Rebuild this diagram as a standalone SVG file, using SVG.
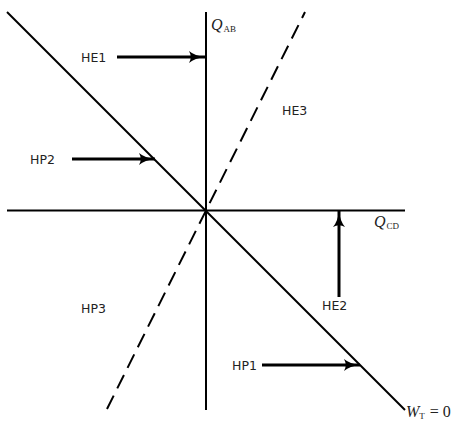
<svg xmlns="http://www.w3.org/2000/svg" width="458" height="423" viewBox="0 0 458 423">
<defs>
<marker id="ah" viewBox="0 0 16 12" refX="16" refY="6" markerWidth="16" markerHeight="12" markerUnits="userSpaceOnUse" orient="auto">
<path d="M0,0 Q6,5 16,6 Q6,7 0,12 Q3.5,6 0,0 Z" fill="#000"/>
</marker>
</defs>
<style>
.ax{stroke:#000;stroke-width:2;fill:none}
.dash{stroke:#000;stroke-width:2;fill:none;stroke-dasharray:15 8}
.arr{stroke:#000;stroke-width:3;fill:none;marker-end:url(#ah)}
.lbl{font-family:"DejaVu Sans",sans-serif;font-size:12.5px;fill:#222}
.m{font-family:"Liberation Serif","DejaVu Serif",serif;font-size:16px;fill:#222}
.mi{font-style:italic}
.sub{font-size:9px}
</style>
<g id="axes">
<line class="ax" x1="206" y1="12" x2="206" y2="410"/>
<line class="ax" x1="7" y1="210.5" x2="405" y2="210.5"/>
<line class="ax" x1="7" y1="12" x2="405" y2="410"/>
<line class="dash" x1="107" y1="409" x2="305" y2="12"/>
</g>
<g id="connectors">
<line class="arr" x1="117" y1="57" x2="205" y2="57"/>
<line class="arr" x1="72" y1="159" x2="155" y2="159"/>
<line class="arr" x1="339" y1="297" x2="339" y2="211"/>
<line class="arr" x1="262" y1="365" x2="360" y2="365"/>
</g>
<g id="HE1"><text class="lbl" x="81" y="61.5">HE1</text></g>
<g id="HP2"><text class="lbl" x="30" y="163.5">HP2</text></g>
<g id="HE3"><text class="lbl" x="282" y="114.5">HE3</text></g>
<g id="HP3"><text class="lbl" x="81" y="312.5">HP3</text></g>
<g id="HE2"><text class="lbl" x="322" y="309.5">HE2</text></g>
<g id="HP1"><text class="lbl" x="232" y="369.5">HP1</text></g>
<g id="QAB"><text class="m" x="211" y="30"><tspan class="mi">Q</tspan><tspan class="sub" dx="1" dy="2">AB</tspan></text></g>
<g id="QCD"><text class="m" x="374" y="227"><tspan class="mi">Q</tspan><tspan class="sub" dx="1" dy="2">CD</tspan></text></g>
<g id="WT"><text class="m" x="406" y="417"><tspan class="mi">W</tspan><tspan class="sub" dy="2">T</tspan><tspan dx="5" dy="-2">=</tspan><tspan dx="4">0</tspan></text></g>
</svg>
